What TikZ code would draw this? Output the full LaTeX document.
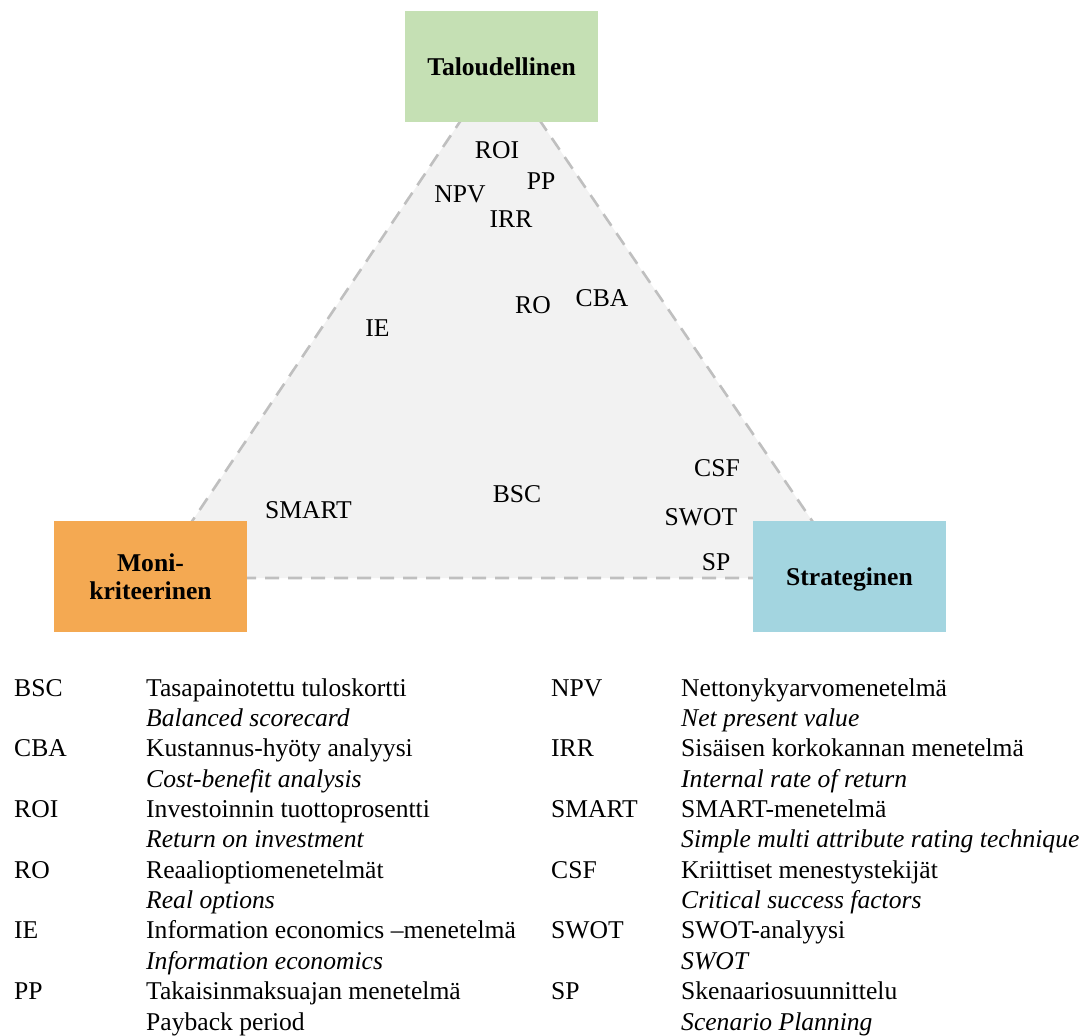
\documentclass[tikz,border=0pt]{standalone}
\usepackage{fontspec}
\setmainfont{Liberation Serif}
\begin{document}
\begin{tikzpicture}[x=1pt,y=-1pt,
  every node/.style={font=\fontsize{25.6}{28}\selectfont, inner sep=0pt},
  corner/.style={minimum width=193pt, minimum height=111pt, align=center,
    text depth=0pt, font=\fontsize{25.6}{28}\selectfont\bfseries},
  method/.style={},
  abbr/.style={anchor=base west},
  desc/.style={anchor=base west},
  trans/.style={anchor=base west, font=\fontsize{25.6}{28}\selectfont\itshape}]
\useasboundingbox (0,0) rectangle (1088,1036);
\definecolor{econ}{HTML}{C5E0B4}
\definecolor{multi}{HTML}{F4A952}
\definecolor{strat}{HTML}{A3D5E0}
\definecolor{tri}{HTML}{F2F2F2}
\definecolor{triedge}{HTML}{BFBFBF}

% triangle spanned by the three perspectives
\coordinate (apex) at (500,62);
\coordinate (bl) at (154,578);
\coordinate (br) at (851,578);
\filldraw[fill=tri, draw=triedge, line width=2.6pt, dash pattern=on 14pt off 9pt]
  (apex) -- (br) -- (bl) -- cycle;

% perspective boxes
\node[corner, fill=econ] (econ) at (501.5,66.5) {Taloudellinen};
\node[corner, fill=multi] (multi) at (150.5,576.5) {Moni-\\kriteerinen};
\node[corner, fill=strat] (strat) at (849.5,576.5) {Strateginen};

% methods placed inside the triangle
\node[method] (roi) at (497,150) {ROI};
\node[method] (pp) at (541,181) {PP};
\node[method] (npv) at (460,194) {NPV};
\node[method] (irr) at (511,219) {IRR};
\node[method] (ro) at (533,305) {RO};
\node[method] (cba) at (602,298.5) {CBA};
\node[method] (ie) at (377.5,328) {IE};
\node[method] (smart) at (308.5,510) {SMART};
\node[method] (bsc) at (517,494) {BSC};
\node[method] (csf) at (717,468) {CSF};
\node[method] (swot) at (701,517) {SWOT};
\node[method] (sp) at (716,562) {SP};

% legend, left column
\node[abbr] (la1) at (14,696) {BSC};
\node[desc] (ld1) at (146,696) {Tasapainotettu tuloskortti};
\node[trans] (lt1) at (146,726.4) {Balanced scorecard};
\node[abbr] (la2) at (14,756.7) {CBA};
\node[desc] (ld2) at (146,756.7) {Kustannus-hyöty analyysi};
\node[trans] (lt2) at (146,787.1) {Cost-benefit analysis};
\node[abbr] (la3) at (14,817.4) {ROI};
\node[desc] (ld3) at (146,817.4) {Investoinnin tuottoprosentti};
\node[trans] (lt3) at (146,847.8) {Return on investment};
\node[abbr] (la4) at (14,878.2) {RO};
\node[desc] (ld4) at (146,878.2) {Reaalioptiomenetelmät};
\node[trans] (lt4) at (146,908.6) {Real options};
\node[abbr] (la5) at (14,938.9) {IE};
\node[desc] (ld5) at (146,938.9) {Information economics –menetelmä};
\node[trans] (lt5) at (146,969.3) {Information economics};
\node[abbr] (la6) at (14,999.6) {PP};
\node[desc] (ld6) at (146,999.6) {Takaisinmaksuajan menetelmä};
\node[desc] (lt6) at (146,1030) {Payback period};

% legend, right column
\node[abbr] (ra1) at (551,696) {NPV};
\node[desc] (rd1) at (681,696) {Nettonykyarvomenetelmä};
\node[trans] (rt1) at (681,726.4) {Net present value};
\node[abbr] (ra2) at (551,756.7) {IRR};
\node[desc] (rd2) at (681,756.7) {Sisäisen korkokannan menetelmä};
\node[trans] (rt2) at (681,787.1) {Internal rate of return};
\node[abbr] (ra3) at (551,817.4) {SMART};
\node[desc] (rd3) at (681,817.4) {SMART-menetelmä};
\node[trans] (rt3) at (681,847.8) {Simple multi attribute rating technique};
\node[abbr] (ra4) at (551,878.2) {CSF};
\node[desc] (rd4) at (681,878.2) {Kriittiset menestystekijät};
\node[trans] (rt4) at (681,908.6) {Critical success factors};
\node[abbr] (ra5) at (551,938.9) {SWOT};
\node[desc] (rd5) at (681,938.9) {SWOT-analyysi};
\node[trans] (rt5) at (681,969.3) {SWOT};
\node[abbr] (ra6) at (551,999.6) {SP};
\node[desc] (rd6) at (681,999.6) {Skenaariosuunnittelu};
\node[trans] (rt6) at (681,1030) {Scenario Planning};
\end{tikzpicture}
\end{document}
